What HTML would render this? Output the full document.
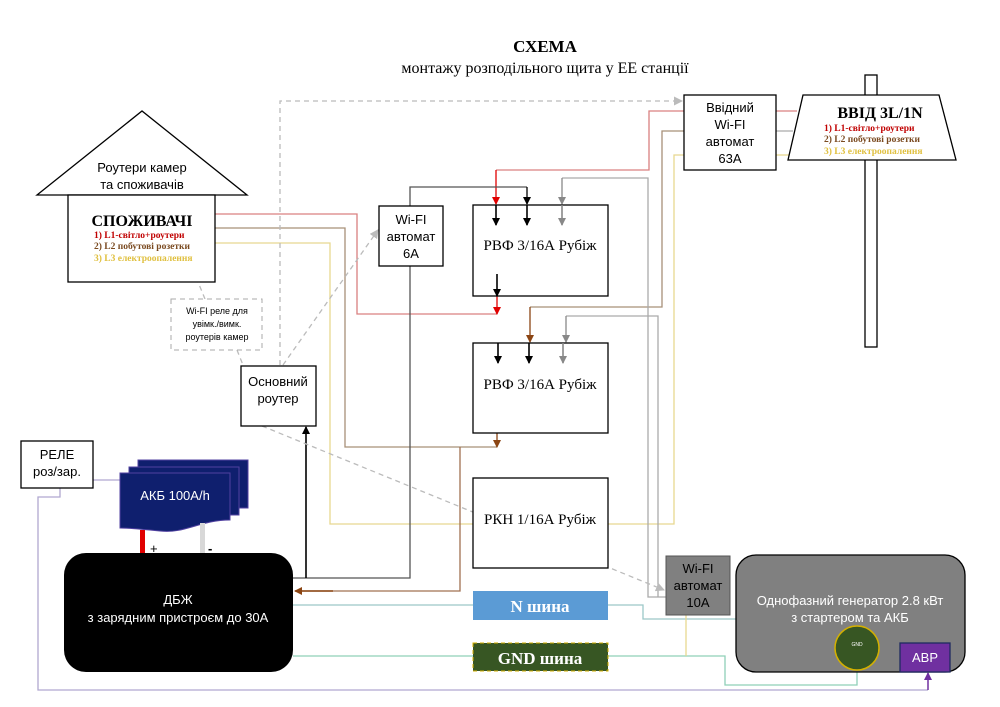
<!DOCTYPE html>
<html><head><meta charset="utf-8"><style>
body{margin:0;background:#fff}
svg{display:block}
.s{font-family:"Liberation Sans","DejaVu Sans",sans-serif}
.r{font-family:"Liberation Serif",serif}
</style></head><body>
<svg width="1000" height="707" viewBox="0 0 1000 707" xmlns="http://www.w3.org/2000/svg">
<defs>
<marker id="ak" markerWidth="8" markerHeight="8" refX="7" refY="4" orient="auto" markerUnits="userSpaceOnUse"><path d="M0,0 L8,4 L0,8z" fill="#000"/></marker>
<marker id="ar" markerWidth="8" markerHeight="8" refX="7" refY="4" orient="auto" markerUnits="userSpaceOnUse"><path d="M0,0 L8,4 L0,8z" fill="#e00000"/></marker>
<marker id="ag" markerWidth="8" markerHeight="8" refX="7" refY="4" orient="auto" markerUnits="userSpaceOnUse"><path d="M0,0 L8,4 L0,8z" fill="#888"/></marker>
<marker id="ab" markerWidth="8" markerHeight="8" refX="7" refY="4" orient="auto" markerUnits="userSpaceOnUse"><path d="M0,0 L8,4 L0,8z" fill="#8b4513"/></marker>
<marker id="ad" markerWidth="9" markerHeight="9" refX="8" refY="4.5" orient="auto" markerUnits="userSpaceOnUse"><path d="M0,0 L9,4.5 L0,9z" fill="#bbb"/></marker>
<marker id="ap" markerWidth="8" markerHeight="8" refX="7" refY="4" orient="auto" markerUnits="userSpaceOnUse"><path d="M0,0 L8,4 L0,8z" fill="#7030a0"/></marker>
</defs>

<text x="545" y="52" text-anchor="middle" class="r" font-size="17" font-weight="bold">СХЕМА</text>
<text x="545" y="73" text-anchor="middle" class="r" font-size="16">монтажу розподільного щита у ЕЕ станції</text>

<g fill="none" stroke-width="1.3">
<polyline points="215,214 357,214 357,314 497,314" stroke="#d98080"/>
<polyline points="215,228 345,228 345,447 497,447" stroke="#a89078"/>
<polyline points="215,243 330,243 330,524 473,524" stroke="#e8d890"/>
<polyline points="684,111 649,111 649,170 496,170" stroke="#d98080"/>
<line x1="496" y1="170" x2="496" y2="204" stroke="#e00000" marker-end="url(#ar)"/>
<polyline points="684,131 662,131 662,307 530,307" stroke="#a89078"/>
<line x1="530" y1="307" x2="530" y2="342" stroke="#8b4513" marker-end="url(#ab)"/>
<polyline points="684,155 674,155 674,524 608,524" stroke="#e8d890"/>
<polyline points="562,178 648,178 648,597 666,597" stroke="#aaa"/>
<polyline points="566,316 658,316 658,597" stroke="#aaa"/>
<line x1="562" y1="178" x2="562" y2="204" stroke="#888" marker-end="url(#ag)"/>
<line x1="566" y1="316" x2="566" y2="342" stroke="#888" marker-end="url(#ag)"/>
<polyline points="410,206 410,187 527,187" stroke="#555"/>
<line x1="527" y1="187" x2="527" y2="204" stroke="#000" marker-end="url(#ak)"/>
<polyline points="410,266 410,578 293,578" stroke="#555"/>
<line x1="306" y1="578" x2="306" y2="427" stroke="#000" stroke-width="1.6" marker-end="url(#ak)"/>
<line x1="497" y1="296" x2="497" y2="314" stroke="#e00000" marker-end="url(#ar)"/>
<line x1="497" y1="433" x2="497" y2="447" stroke="#8b4513" marker-end="url(#ab)"/>
<polyline points="460,447 460,591 296,591" stroke="#a07050"/>
<line x1="333" y1="591" x2="295" y2="591" stroke="#8b4513" stroke-width="1.6" marker-end="url(#ab)"/>
<line x1="776" y1="111" x2="797" y2="111" stroke="#d98080"/>
<line x1="776" y1="131" x2="793" y2="131" stroke="#aaa"/>
<line x1="776" y1="155" x2="789" y2="155" stroke="#e8d890"/>
<line x1="293" y1="605" x2="473" y2="605" stroke="#9cc8c8"/>
<polyline points="608,605 643,605 643,619 736,619" stroke="#9cc8c8"/>
<line x1="293" y1="656" x2="473" y2="656" stroke="#8fd0b8"/>
<polyline points="608,656 725,656 725,685 857,685 857,670" stroke="#8fd0b8"/>
<line x1="686" y1="615" x2="686" y2="656" stroke="#e8d890"/>
<polyline points="93,480 120,480" stroke="#b0a8d0"/>
<polyline points="60,488 60,497 38,497 38,690 928,690" stroke="#b0a8d0"/>
<line x1="928" y1="690" x2="928" y2="673" stroke="#7030a0" stroke-width="1.5" marker-end="url(#ap)"/>
</g>
<g fill="none" stroke="#bbb" stroke-width="1.3" stroke-dasharray="5,4">
<polyline points="280,365 280,101 682,101" marker-end="url(#ad)"/>
<line x1="283" y1="365" x2="378" y2="230" marker-end="url(#ad)"/>
<line x1="262" y1="426" x2="664" y2="590" marker-end="url(#ad)"/>
<line x1="205" y1="299" x2="198" y2="282"/>
<line x1="237" y1="350" x2="243" y2="365"/>
</g>

<polygon points="37,195 142,111 247,195" fill="#fff" stroke="#000" stroke-width="1.3"/>
<rect x="68" y="195" width="147" height="87" fill="#fff" stroke="#000" stroke-width="1.3"/>
<text x="142" y="172" text-anchor="middle" class="s" font-size="13">Роутери камер</text>
<text x="142" y="189" text-anchor="middle" class="s" font-size="13">та споживачів</text>
<text x="142" y="226" text-anchor="middle" class="r" font-size="16" font-weight="bold">СПОЖИВАЧІ</text>
<g class="r" font-size="9.5" font-weight="bold">
<text x="94" y="238" fill="#c00000">1) L1-світло+роутери</text>
<text x="94" y="249" fill="#7a4a20">2) L2 побутові розетки</text>
<text x="94" y="261" fill="#e0c040">3) L3 електроопалення</text>
</g>

<rect x="171" y="299" width="91" height="51" fill="#fff" stroke="#aaa" stroke-dasharray="5,4"/>
<g class="s" font-size="9" text-anchor="middle"><text x="217" y="314">Wi-FI реле для</text><text x="217" y="327">увімк./вимк.</text><text x="217" y="340">роутерів камер</text></g>

<rect x="241" y="366" width="75" height="60" fill="#fff" stroke="#000" stroke-width="1.3"/>
<text x="278" y="386" text-anchor="middle" class="s" font-size="13">Основний</text>
<text x="278" y="403" text-anchor="middle" class="s" font-size="13">роутер</text>

<rect x="379" y="206" width="64" height="60" fill="#fff" stroke="#000" stroke-width="1.3"/>
<g class="s" font-size="13" text-anchor="middle"><text x="411" y="224">Wi-FI</text><text x="411" y="241">автомат</text><text x="411" y="258">6А</text></g>

<rect x="473" y="205" width="135" height="91" fill="#fff" stroke="#000" stroke-width="1.3"/>
<text x="540" y="250" text-anchor="middle" class="r" font-size="15">РВФ 3/16А Рубіж</text>
<rect x="473" y="343" width="135" height="90" fill="#fff" stroke="#000" stroke-width="1.3"/>
<text x="540" y="389" text-anchor="middle" class="r" font-size="15">РВФ 3/16А Рубіж</text>
<rect x="473" y="478" width="135" height="90" fill="#fff" stroke="#000" stroke-width="1.3"/>
<text x="540" y="524" text-anchor="middle" class="r" font-size="15">РКН 1/16А Рубіж</text>
<g stroke-width="1.6">
<line x1="496" y1="205" x2="496" y2="225" stroke="#000" marker-end="url(#ak)"/>
<line x1="527" y1="205" x2="527" y2="225" stroke="#000" marker-end="url(#ak)"/>
<line x1="562" y1="205" x2="562" y2="225" stroke="#888" marker-end="url(#ag)"/>
<line x1="497" y1="274" x2="497" y2="296" stroke="#000" marker-end="url(#ak)"/>
<line x1="498" y1="343" x2="498" y2="363" stroke="#000" marker-end="url(#ak)"/>
<line x1="529" y1="343" x2="529" y2="363" stroke="#000" marker-end="url(#ak)"/>
<line x1="563" y1="343" x2="563" y2="363" stroke="#888" marker-end="url(#ag)"/>
</g>

<rect x="684" y="95" width="92" height="75" fill="#fff" stroke="#000" stroke-width="1.3"/>
<g class="s" font-size="13" text-anchor="middle"><text x="730" y="112">Ввідний</text><text x="730" y="129">Wi-FI</text><text x="730" y="146">автомат</text><text x="730" y="163">63А</text></g>

<rect x="865" y="75" width="12" height="272" fill="#fff" stroke="#000" stroke-width="1.3"/>
<polygon points="803,95 939,95 956,160 788,160" fill="#fff" stroke="#000" stroke-width="1.3"/>
<text x="880" y="118" text-anchor="middle" class="r" font-size="16" font-weight="bold">ВВІД 3L/1N</text>
<g class="r" font-size="9.5" font-weight="bold">
<text x="824" y="131" fill="#c00000">1) L1-світло+роутери</text>
<text x="824" y="142" fill="#7a4a20">2) L2 побутові розетки</text>
<text x="824" y="154" fill="#e0c040">3) L3 електроопалення</text>
</g>

<rect x="666" y="556" width="64" height="59" fill="#808080" stroke="#555"/>
<g class="s" font-size="13" text-anchor="middle"><text x="698" y="573">Wi-FI</text><text x="698" y="590">автомат</text><text x="698" y="607">10А</text></g>

<rect x="736" y="555" width="229" height="117" rx="20" fill="#808080" stroke="#000" stroke-width="1.3"/>
<text x="850" y="605" text-anchor="middle" class="s" font-size="13" fill="#fff">Однофазний генератор 2.8 кВт</text>
<text x="850" y="622" text-anchor="middle" class="s" font-size="13" fill="#fff">з стартером та АКБ</text>
<circle cx="857" cy="648" r="22" fill="#375623" stroke="#d4b000" stroke-width="1.5"/>
<text x="857" y="646" text-anchor="middle" class="s" font-size="5" fill="#fff">GND</text>
<rect x="900" y="643" width="50" height="29" fill="#7030a0" stroke="#1f2a60" stroke-width="1.3"/>
<text x="925" y="662" text-anchor="middle" class="s" font-size="13" fill="#fff">АВР</text>

<rect x="473" y="591" width="135" height="29" fill="#5b9bd5"/>
<text x="540" y="612" text-anchor="middle" class="r" font-size="17" font-weight="bold" fill="#fff">N шина</text>
<rect x="473" y="643" width="135" height="28" fill="#375623" stroke="#d4b000" stroke-dasharray="4,3"/>
<text x="540" y="664" text-anchor="middle" class="r" font-size="17" font-weight="bold" fill="#fff">GND шина</text>

<rect x="64" y="553" width="229" height="119" rx="22" fill="#000"/>
<text x="178" y="604" text-anchor="middle" class="s" font-size="13" fill="#fff">ДБЖ</text>
<text x="178" y="622" text-anchor="middle" class="s" font-size="13" fill="#fff">з зарядним пристроєм до 30А</text>

<rect x="21" y="441" width="72" height="47" fill="#fff" stroke="#000" stroke-width="1.3"/>
<text x="57" y="459" text-anchor="middle" class="s" font-size="13">РЕЛЕ</text>
<text x="57" y="476" text-anchor="middle" class="s" font-size="13">роз/зар.</text>

<rect x="138" y="460" width="110" height="48" fill="#0f1f6e" stroke="#5040a0"/>
<rect x="129" y="467" width="110" height="48" fill="#0f1f6e" stroke="#5040a0"/>
<path d="M120,473 H230 V520 C200,520 185,534 160,531 C140,529 130,528 120,528 Z" fill="#0f1f6e" stroke="#5040a0"/>
<text x="175" y="500" text-anchor="middle" class="s" font-size="13" fill="#fff">АКБ 100А/h</text>
<rect x="140" y="530" width="5" height="23" fill="#e00000"/>
<rect x="200" y="523" width="5" height="30" fill="#d8d8d8"/>
<text x="150" y="553" class="s" font-size="13">+</text>
<text x="208" y="553" class="s" font-size="13" font-weight="bold">-</text>
</svg>
</body></html>
